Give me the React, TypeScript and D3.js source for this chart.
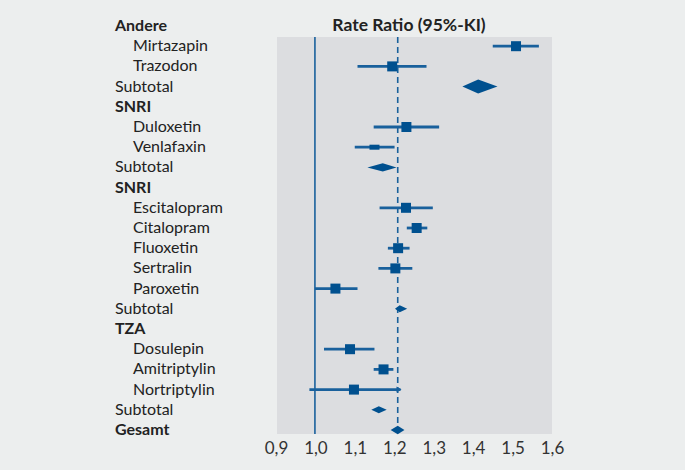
import React from "react";
import * as d3 from "d3";

const labels = ["Andere","Mirtazapin","Trazodon","Subtotal","SNRI","Duloxetin","Venlafaxin","Subtotal","SNRI","Escitalopram","Citalopram","Fluoxetin","Sertralin","Paroxetin","Subtotal","TZA","Dosulepin","Amitriptylin","Nortriptylin","Subtotal","Gesamt"];
const kinds = ["header","study","study","subtotal","header","study","study","subtotal","header","study","study","study","study","study","subtotal","header","study","study","study","subtotal","overall"];
const estimates: (number | null)[] = [null,1.51,1.196,1.414,null,1.232,1.151,1.172,null,1.231,1.258,1.211,1.204,1.052,1.215,null,1.089,1.174,1.099,1.162,1.21];
const lower: (number | null)[] = [null,1.451,1.108,1.374,null,1.149,1.101,1.133,null,1.164,1.233,1.185,1.161,1.0,1.203,null,1.023,1.149,0.986,1.143,1.192];
const upper: (number | null)[] = [null,1.568,1.283,1.463,null,1.315,1.202,1.207,null,1.299,1.285,1.240,1.247,1.108,1.234,null,1.151,1.199,1.217,1.182,1.227];
// relative weight of the pooled estimate (diamond height)
const pooledWeight: (number | null)[] = [null,null,null,1.0,null,null,null,0.6,null,null,null,null,null,null,0.5,null,null,null,null,0.5,0.6];
// studies with very low weight drawn as a flat box
const lowWeight = [false,false,false,false,false,false,true,false,false,false,false,false,false,false,false,false,false,false,false,false,false];
const ticks = [0.9,1.0,1.1,1.2,1.3,1.4,1.5,1.6];
const nullValue = 1.0;
const overallValue = 1.21;
const title = "Rate Ratio (95%-KI)";

const W = 685, H = 470;
const FONT = "Lato, 'Open Sans', sans-serif";
const BLUE = "#00508f";
const LINE = "#19609c";

export default function App() {
  const x = d3.scaleLinear().domain([0.9, 1.6]).range([275.5, 551.5]);
  const y = d3.scalePoint<number>().domain(labels.map((_, i) => i)).range([26, 430]);
  const plotTop = 37, plotBottom = 434, plotLeft = 277, plotRight = 552;
  const diamondH = d3.scaleLinear().domain([0, 1]).range([0, 14]);

  return (
    <svg width={W} height={H} style={{ position: "absolute", left: 0, top: 0 }} fontFamily={FONT}>
      <rect x={0} y={0} width={W} height={H} fill="#eceeee" />
      <rect x={plotLeft} y={plotTop} width={plotRight - plotLeft} height={plotBottom - plotTop} fill="#dcdde0" />
      <text x={409} y={31} textAnchor="middle" fontSize={17.5} fontWeight={700} fill="#222">{title}</text>
      <line x1={x(nullValue)} x2={x(nullValue)} y1={plotTop} y2={plotBottom} stroke={LINE} strokeWidth={1.6} />
      <line x1={x(overallValue)} x2={x(overallValue)} y1={plotTop} y2={plotBottom} stroke={LINE} strokeWidth={1.6} strokeDasharray="6,4" />
      {labels.map((lab, i) => {
        const k = kinds[i];
        const bold = k === "header" || k === "overall";
        const indent = k === "study" ? 133 : 115;
        return (
          <text key={"l" + i} x={indent} y={(y(i) as number) + 5} fontSize={16} fontWeight={bold ? 700 : 400} fill="#222">{lab}</text>
        );
      })}
      {labels.map((_, i) => {
        const k = kinds[i];
        const e = estimates[i], lo = lower[i], hi = upper[i];
        if (e == null || lo == null || hi == null) return null;
        const cy = y(i) as number;
        if (k === "study") {
          const s = 10;
          const h = lowWeight[i] ? 5 : 10;
          const arrow = i === 18;
          return (
            <g key={"m" + i}>
              <line x1={x(lo)} x2={x(hi)} y1={cy} y2={cy} stroke={LINE} strokeWidth={2.8} />
              {arrow && (
                <path d={`M${x(hi) - 4},${cy - 3} L${x(hi) + 1},${cy} L${x(hi) - 4},${cy + 3} Z`} fill={LINE} />
              )}
              <rect x={x(e) - s / 2} y={cy - h / 2} width={s} height={h} fill={BLUE} />
            </g>
          );
        }
        const hh = diamondH(pooledWeight[i] ?? 0.5) / 2;
        return (
          <path key={"m" + i} d={`M${x(lo)},${cy} L${x(e)},${cy - hh} L${x(hi)},${cy} L${x(e)},${cy + hh} Z`} fill={BLUE} />
        );
      })}
      {ticks.map((t) => (
        <text key={"t" + t} x={x(t) + 1} y={453.5} textAnchor="middle" fontSize={17} fill="#333">{d3.format(".1f")(t).replace(".", ",")}</text>
      ))}
    </svg>
  );
}
